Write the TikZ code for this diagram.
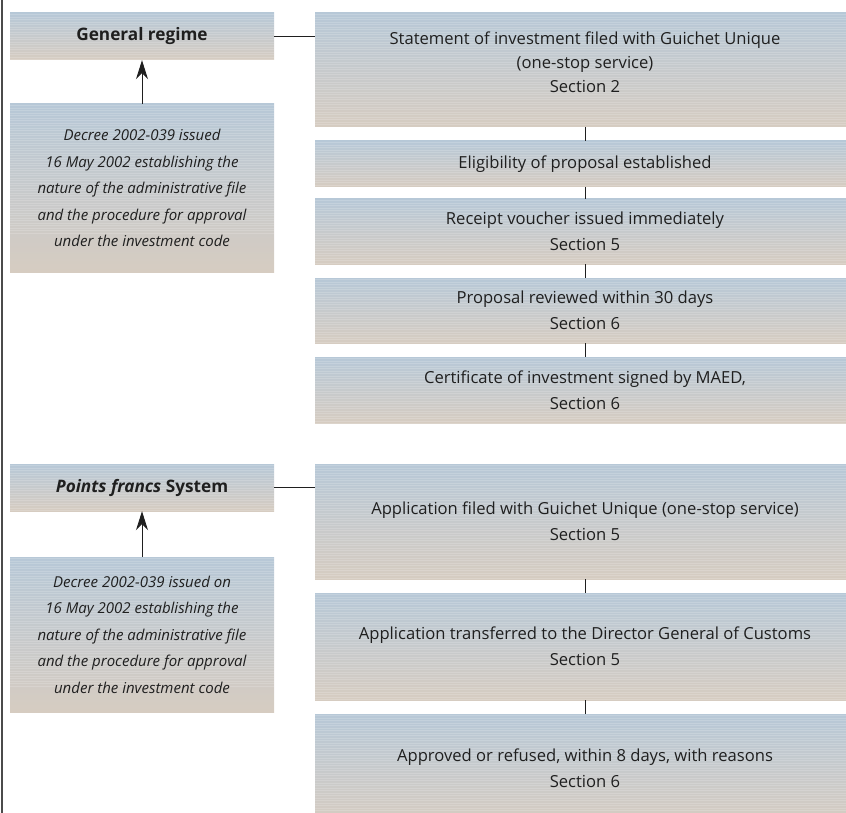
\documentclass[tikz,border=0pt]{standalone}
\usepackage{fontspec}
\setmainfont{Open Sans}
\usetikzlibrary{arrows.meta,calc}
\definecolor{box-top}{RGB}{183,200,215}
\definecolor{box-bottom}{RGB}{214,204,193}
\definecolor{ink}{gray}{0.12}
\tikzstyle{shaded}=[top color=box-top,bottom color=box-bottom,draw=none,inner sep=0pt,text=ink,
  path picture={\foreach \k in {1.5,4,...,130} \draw[white,opacity=0.17,line width=0.5pt] ($(path picture bounding box.north west)+(0,\k)$) -- ($(path picture bounding box.north east)+(0,\k)$);}]
\tikzstyle{stage}=[shaded,minimum width=540,align=center,font=\fontsize{16.6}{26}\selectfont]
\tikzstyle{regime}=[shaded,minimum width=264,minimum height=47,font=\bfseries\fontsize{17.2}{20}\selectfont]
\tikzstyle{decree}=[shaded,minimum width=264,align=center,font=\itshape\fontsize{15}{26.5}\selectfont]
\tikzstyle{link}=[draw=ink,line width=0.9pt]
\newcommand{\stagebox}[4]{% name, centre y, height, text
  \node[stage,minimum height=#3] (#1) at (585,#2) {#4};
}

\begin{document}
\begin{tikzpicture}[x=1pt,y=-1pt]
	\useasboundingbox (0,0) rectangle (846,813);
	\clip (0,0) rectangle (846,813);
	% rule down the left edge
	\coordinate (railtop) at (2,0);
	\coordinate (railbottom) at (2,813);
	\draw[draw=ink!80,line width=1.2pt] (railtop) -- (railbottom);
	% general regime
	\begin{scope}
		\node[regime] (general) at (142,36.5) {General regime};
		\node[decree,minimum height=168] (decreeA) at (142,188) {Decree 2002-039 issued\\16 May 2002 establishing the\\nature of the administrative file\\and the procedure for approval\\under the investment code};
		\stagebox{statement}{70}{114}{}
		\node[text=ink,align=center,font=\fontsize{16.6}{24}\selectfont] (statementtext) at (statement.center) [yshift=8pt] {Statement of investment filed with Guichet Unique\\(one-stop service)\\Section 2};
		\stagebox{eligible}{164}{46}{Eligibility of proposal established}
		\stagebox{receipt}{231.5}{65}{Receipt voucher issued immediately\\Section 5}
		\stagebox{review}{310.5}{65}{Proposal reviewed within 30 days\\Section 6}
		\stagebox{certificate}{390}{66}{Certificate of investment signed by MAED,\\Section 6}
		\draw[link,-{Stealth[length=19pt,width=12pt]}] (decreeA) -- (general);
		\draw[link] (general.east) -- (general.east -| statement.west);
		\draw[link] (statement) -- (eligible);
		\draw[link] (eligible) -- (receipt);
		\draw[link] (receipt) -- (review);
		\draw[link] (review) -- (certificate);
	\end{scope}
	% points francs
	\begin{scope}
		\node[regime] (francs) at (142,487.5) {\textit{Points francs} System};
		\node[decree,minimum height=155] (decreeB) at (142,634.5) {Decree 2002-039 issued on\\16 May 2002 establishing the\\nature of the administrative file\\and the procedure for approval\\under the investment code};
		\stagebox{application}{521.5}{115}{Application filed with Guichet Unique (one-stop service)\\Section 5}
		\stagebox{transfer}{646.5}{107}{Application transferred to the Director General of Customs\\Section 5}
		\stagebox{decision}{768}{108}{Approved or refused, within 8 days, with reasons\\Section 6}
		\draw[link,-{Stealth[length=19pt,width=12pt]}] (decreeB) -- (francs);
		\draw[link] (francs.east) -- (francs.east -| application.west);
		\draw[link] (application) -- (transfer);
		\draw[link] (transfer) -- (decision);
	\end{scope}
\end{tikzpicture}
\end{document}
